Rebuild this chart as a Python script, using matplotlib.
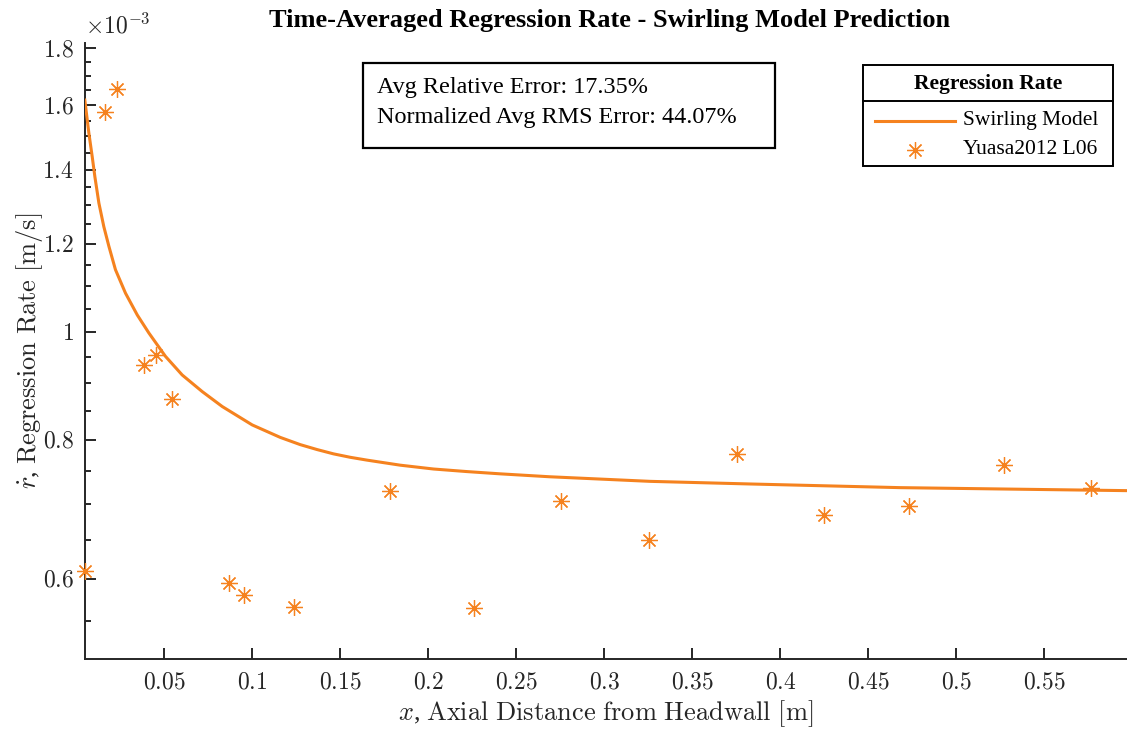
import numpy as np
import matplotlib
matplotlib.use("Agg")
import matplotlib.pyplot as plt
from matplotlib.ticker import FixedLocator, FuncFormatter, NullFormatter
from matplotlib.patches import Rectangle
from matplotlib.lines import Line2D

# model curve (x in m, r_dot in 1e-3 m/s)
model_x = [0.0049, 0.0072, 0.0091, 0.0106, 0.0129, 0.0157, 0.0186, 0.0223,
           0.0280, 0.0347, 0.0413, 0.0507, 0.0602, 0.0716, 0.0830, 0.1000,
           0.1159, 0.1273, 0.1368, 0.1462, 0.1557, 0.1652, 0.1841, 0.2030,
           0.2220, 0.2409, 0.269, 0.326, 0.383, 0.468, 0.525, 0.597]
model_r = [1.617, 1.510, 1.438, 1.380, 1.306, 1.244, 1.194, 1.138,
           1.084, 1.036, 0.998, 0.951, 0.915, 0.884, 0.857, 0.825,
           0.804, 0.792, 0.784, 0.777, 0.7715, 0.767, 0.759, 0.753,
           0.749, 0.7455, 0.741, 0.734, 0.730, 0.7245, 0.7225, 0.720]

# experimental data, Yuasa2012 L06
exp_x = [0.005, 0.0165, 0.0233, 0.0386, 0.0455, 0.0545, 0.0869, 0.0955, 0.124,
         0.178, 0.226, 0.2756, 0.3256, 0.3756, 0.425, 0.4733, 0.527, 0.5767]
exp_r = [0.610, 1.578, 1.655, 0.934, 0.954, 0.871, 0.595, 0.580, 0.566,
         0.720, 0.565, 0.705, 0.650, 0.776, 0.684, 0.697, 0.760, 0.724]

x_ticks = [0.05, 0.1, 0.15, 0.2, 0.25, 0.3, 0.35, 0.4, 0.45, 0.5, 0.55]
y_ticks = [0.6, 0.8, 1.0, 1.2, 1.4, 1.6, 1.8]

SCALE = 1e-3
ORANGE = '#F5821F'
INK = '#262626'

plt.rcParams['mathtext.fontset'] = 'cm'
plt.rcParams['font.family'] = 'Liberation Serif'

W, H = 1127, 729
fig = plt.figure(figsize=(W / 100, H / 100), dpi=100)


def px(x, y):
    # pixel position (from top-left) -> figure fraction
    return x / W, 1 - y / H


ax = fig.add_axes([85 / W, (H - 659) / H, (1127 - 85) / W, (659 - 43) / H])

line, = ax.plot(model_x, np.array(model_r) * SCALE, color=ORANGE, lw=2.2,
                zorder=3)
pts, = ax.plot(exp_x, np.array(exp_r) * SCALE, ls='none', marker=(8, 2, 0),
               ms=12, mew=0.9, color=ORANGE, zorder=4, clip_on=False)

ax.set_yscale('log')
ax.set_xlim(0.005, 0.597)
ax.set_ylim(0.508e-3, 1.82e-3)

ax.xaxis.set_major_locator(FixedLocator(x_ticks))
ax.xaxis.set_major_formatter(FuncFormatter(lambda v, p: r'$%g$' % v))
ax.yaxis.set_major_locator(FixedLocator([t * SCALE for t in y_ticks]))
ax.yaxis.set_major_formatter(FuncFormatter(lambda v, p: r'$%g$' % round(v / SCALE, 3)))
minor = [m * SCALE for m in np.arange(0.55, 1.80, 0.05)
         if all(abs(m - t) > 1e-6 for t in y_ticks)]
ax.yaxis.set_minor_locator(FixedLocator(minor))
ax.yaxis.set_minor_formatter(NullFormatter())

for s in ['top', 'right']:
    ax.spines[s].set_visible(False)
for s in ['left', 'bottom']:
    ax.spines[s].set_linewidth(1.4)
    ax.spines[s].set_color(INK)
ax.tick_params(which='major', direction='in', length=8, width=1.4,
               color=INK, labelsize=17, labelcolor=INK, pad=10)
ax.tick_params(which='minor', direction='in', length=4.5, width=1.4, color=INK)
ax.tick_params(axis='y', pad=8)

ax.text(0.0, 1.008, r'$\times 10^{-3}$', transform=ax.transAxes,
        fontsize=17, color=INK, ha='left', va='bottom')

ax.set_xlabel(r'$x$, $\mathrm{Axial\ Distance\ from\ Headwall\ [m]}$',
              fontsize=19, color=INK, labelpad=3)
ax.set_ylabel(r'$\dot{r}$, $\mathrm{Regression\ Rate\ [m/s]}$',
              fontsize=19, color=INK, labelpad=-2)

fig.text(*px(610, 20), 'Time-Averaged Regression Rate - Swirling Model Prediction',
         fontsize=19, fontweight='bold', ha='center', va='center')

# error summary box
fig.patches.append(Rectangle(px(363, 148), (775 - 363) / W, (148 - 63) / H,
                             transform=fig.transFigure, fill=False,
                             edgecolor='black', lw=1.6))
fig.text(*px(377, 88), 'Avg Relative Error: 17.35%', fontsize=17.4,
         ha='left', va='center')
fig.text(*px(377, 118), 'Normalized Avg RMS Error: 44.07%', fontsize=17.4,
         ha='left', va='center')

# legend with a titled header, drawn as in the original
fig.patches.append(Rectangle(px(863, 166), (1113 - 863) / W, (166 - 65) / H,
                             transform=fig.transFigure, facecolor='white',
                             edgecolor='black', lw=1.4, zorder=5))
fig.lines.append(Line2D([863 / W, 1113 / W], [1 - 101 / H] * 2,
                        transform=fig.transFigure, color='black', lw=1.4, zorder=6))
fig.text(*px(988, 84), 'Regression Rate', fontsize=15.5, fontweight='bold',
         ha='center', va='center', zorder=6)
fig.lines.append(Line2D([875 / W, 955 / W], [1 - 121 / H] * 2,
                        transform=fig.transFigure, color=line.get_color(),
                        lw=line.get_linewidth(), zorder=6))
fig.lines.append(Line2D([915 / W], [1 - 150 / H], transform=fig.transFigure,
                        ls='none', marker=pts.get_marker(), ms=pts.get_markersize(),
                        mew=pts.get_markeredgewidth(), color=pts.get_color(), zorder=6))
fig.text(*px(963, 121), 'Swirling Model', fontsize=15.5, ha='left', va='center', zorder=6)
fig.text(*px(963, 150), 'Yuasa2012 L06', fontsize=15.5, ha='left', va='center', zorder=6)

fig.savefig('out.png', dpi=100)
